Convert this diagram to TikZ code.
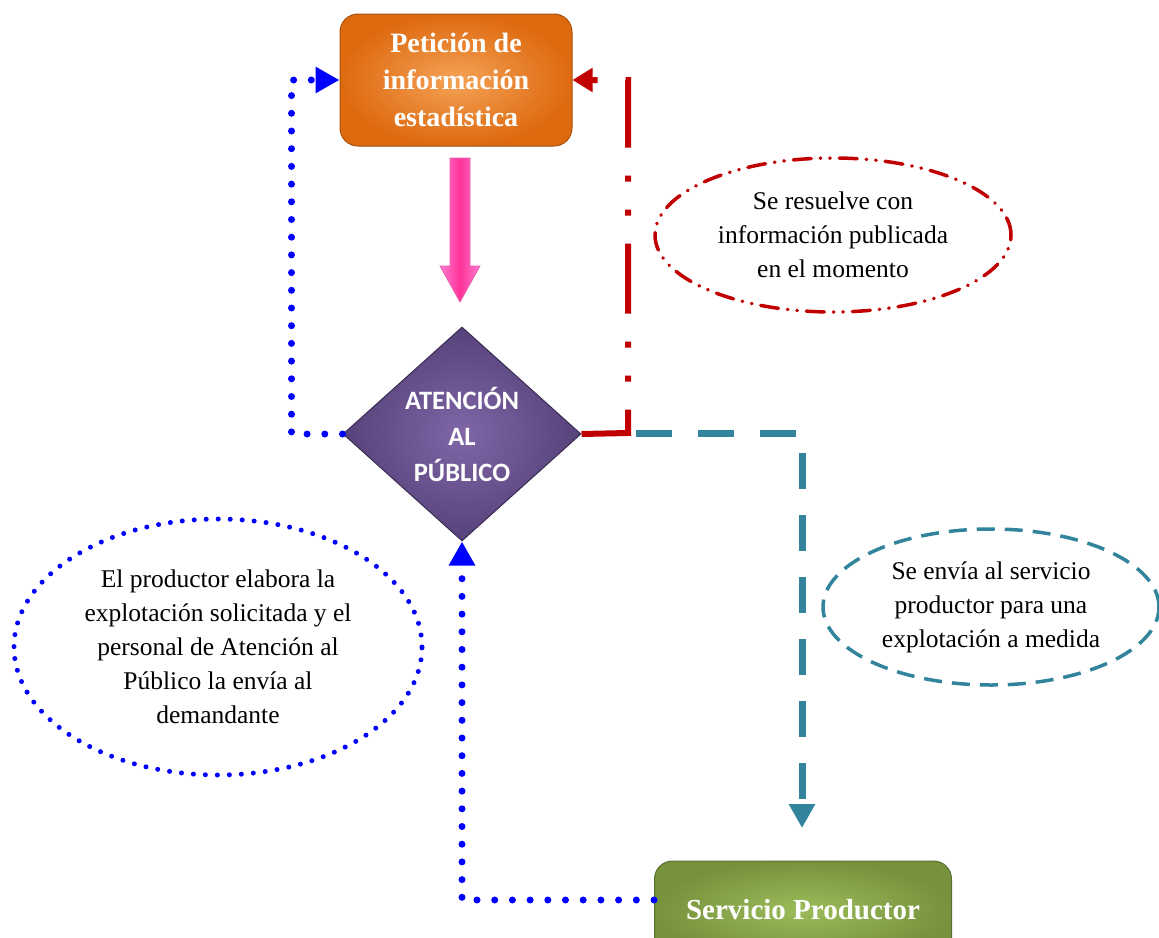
\documentclass[tikz,border=0pt]{standalone}
\usepackage{fontspec}
\setmainfont{Liberation Serif}
\newfontfamily\calib{Carlito}
\usetikzlibrary{shapes.geometric,arrows.meta}
\definecolor{orOut}{HTML}{DE6A10}
\definecolor{orIn}{HTML}{F4A256}
\definecolor{orEdge}{HTML}{A8500C}
\definecolor{puOut}{HTML}{56427A}
\definecolor{puIn}{HTML}{8066A6}
\definecolor{puEdge}{HTML}{3A2C52}
\definecolor{grOut}{HTML}{76923C}
\definecolor{grIn}{HTML}{9CBC5A}
\definecolor{grEdge}{HTML}{5A7030}
\definecolor{redc}{HTML}{C00000}
\definecolor{tealc}{HTML}{31849B}
\definecolor{bluec}{HTML}{0000FF}
\definecolor{pinkL}{HTML}{FF7ACF}
\definecolor{pinkD}{HTML}{FF3399}
\definecolor{pinkB}{HTML}{E85FB0}
\begin{document}
\begin{tikzpicture}[x=1pt,y=-1pt,
  titlebox/.style={rectangle, rounded corners=18pt, minimum width=232pt, minimum height=132pt,
    inner color=orIn, outer color=orOut, draw=orEdge, line width=1pt, text=white, align=center,
    font=\fontsize{28}{37}\selectfont\bfseries},
  prodbox/.style={rectangle, rounded corners=18pt, minimum width=297pt, minimum height=98pt,
    inner color=grIn, outer color=grOut, draw=grEdge, line width=1pt, text=white, align=center,
    font=\fontsize{29}{35}\selectfont\bfseries},
  diam/.style={diamond, minimum width=238pt, minimum height=214pt, inner sep=0pt,
    inner color=puIn, outer color=puOut, draw=puEdge, line width=1pt, text=white, align=center,
    font=\calib\fontsize{26.5}{36}\selectfont\bfseries},
  note/.style={ellipse, inner sep=0pt, align=center, font=\fontsize{25.5}{34}\selectfont},
  bluedot/.style={draw=bluec, line width=7pt, line cap=round, dash pattern=on 0pt off 17.7pt},
  redline/.style={draw=redc, line width=6pt, dash pattern=on 70pt off 28pt on 6pt off 28pt on 6pt off 28pt},
  tealline/.style={draw=tealc, line width=7pt, dash pattern=on 36pt off 26pt},
  tip/.style={-{Triangle[length=24pt,width=25pt]}},
  redtip/.style={-{Triangle[length=20pt,width=23pt]}}
]
\useasboundingbox (0,0) rectangle (1159,937);
\clip (0,0) rectangle (1159,937);

% nodes
\node[titlebox] (box) at (456,80) {Petición de\\información\\estadística};
\node[diam] (att) at (462,434) {ATENCIÓN\\AL\\PÚBLICO};
\node[prodbox] (prod) at (803,910) {Servicio Productor};

\node[note, draw=redc, line width=3.5pt, line cap=round,
  dash pattern=on 18pt off 9pt on 0.5pt off 9pt on 0.5pt off 9pt,
  minimum width=356pt, minimum height=154pt] (n1) at (833,235)
  {Se resuelve con\\información publicada\\en el momento};
\node[note, draw=bluec, line width=5pt, line cap=round,
  dash pattern=on 0pt off 12pt,
  minimum width=408pt, minimum height=256pt] (n2) at (218,647)
  {El productor elabora la\\explotación solicitada y el\\personal de Atención al\\Público la envía al\\demandante};
\node[note, draw=tealc, line width=3.5pt,
  dash pattern=on 18pt off 10pt,
  minimum width=336pt, minimum height=156pt] (n3) at (991,607)
  {Se envía al servicio\\productor para una\\explotación a medida};

% pink block arrow
\shadedraw[left color=pinkL, right color=pinkL, middle color=pinkD, draw=pinkB, line width=0.8pt]
  (450,158) -- (470,158) -- (470,266) -- (480,266) -- (460,302) -- (440,266) -- (450,266) -- cycle;

% connectors
\coordinate (rc) at (628,433);
\coordinate (ts) at (636,433);
\coordinate (te) at (802,828);
\draw[redline, redtip, redc] (att.east) -- (rc) |- (box.east);
\draw[tealline, tip, tealc] (ts) -| (te);
\draw[bluedot, tip, bluec] (att.west) -- ++(-51,0) |- (box.west);
\draw[bluedot, tip, bluec] ([yshift=10pt]prod.west) -| (att.south);
\end{tikzpicture}
\end{document}
